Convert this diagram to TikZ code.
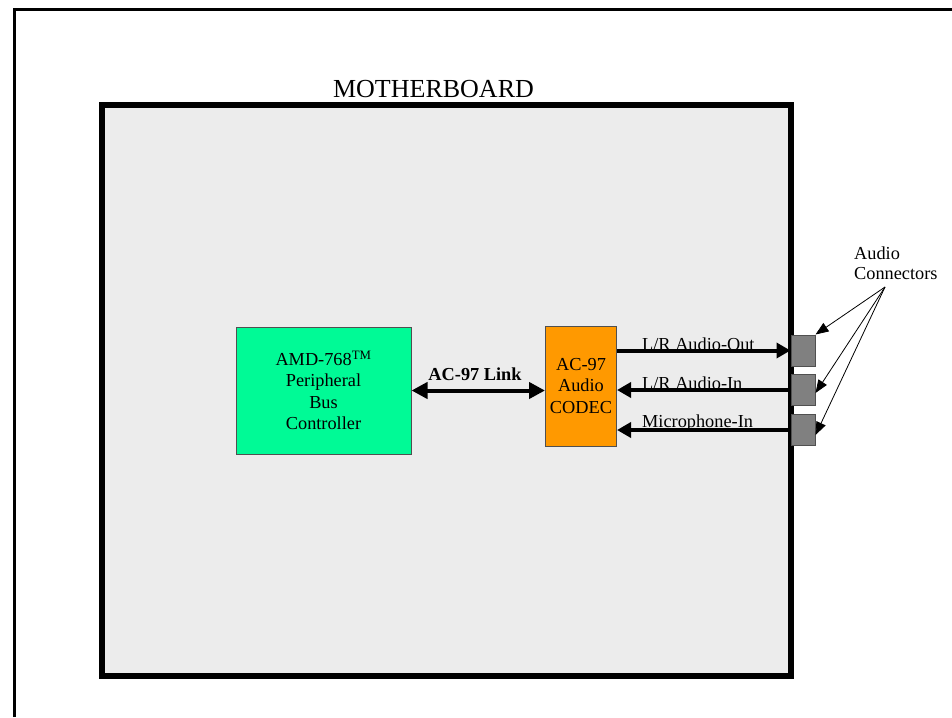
\documentclass[tikz,border=0pt]{standalone}
\usepackage{fontspec}
\setmainfont{Liberation Serif}
\usetikzlibrary{arrows.meta}
\definecolor{boardgray}{RGB}{236,236,236}
\definecolor{amdgreen}{RGB}{0,250,150}
\definecolor{codecorange}{RGB}{255,153,0}
\definecolor{conngray}{RGB}{128,128,128}
\definecolor{edgegray}{RGB}{80,80,80}
\tikzset{
  chip/.style={draw=edgegray, line width=1pt, align=center, inner sep=0pt,
    font=\fontsize{18.3}{21.5}\selectfont},
  jack/.style={draw=edgegray, fill=conngray, line width=1pt, minimum width=24pt, minimum height=31pt, inner sep=0pt},
  bus/.style={line width=4pt},
  bighead/.style={-{Triangle[length=14pt,width=15pt]}},
  thinarrow/.style={line width=0.8pt, -{Triangle[length=13pt,width=10pt]}},
  lbl/.style={font=\fontsize{18.3}{20}\selectfont, inner sep=0pt, anchor=base west}
}
\begin{document}
\begin{tikzpicture}[x=1pt,y=-1pt]
\useasboundingbox (0,0) rectangle (952,717);
% outer frame
\draw[line width=3pt] (14,717) -- (14,9.5) -- (952,9.5);
% motherboard
\draw[line width=6pt, fill=boardgray] (101.5,105) rectangle (791,676);
\node[font=\fontsize{26}{28}\selectfont, anchor=base, inner sep=0pt] (mb) at (433.5,97) {MOTHERBOARD};
% chips
\node[chip, fill=amdgreen, minimum width=175pt, minimum height=127pt] (amd) at (323.5,390.5)
  {AMD-768\textsuperscript{TM}\\Peripheral\\Bus\\Controller};
\node[chip, fill=codecorange, minimum width=71pt, minimum height=120pt] (codec) at (581,386)
  {AC-97\\Audio\\CODEC};
% connectors
\node[jack] (c1) at (803,350.5) {};
\node[jack] (c2) at (803,390) {};
\node[jack] (c3) at (803,430) {};
% link
\draw[bus, {Triangle[length=16pt,width=16pt]}-{Triangle[length=16pt,width=16pt]}] (amd.east) -- (codec.west |- amd.east);
\node[font=\bfseries\fontsize{18.3}{20}\selectfont, anchor=base, inner sep=0pt] (link) at (475,380) {AC-97 Link};
% audio lines
\draw[bus, bighead] (codec.east |- c1) -- (c1.west);
\draw[bus, bighead] (c2.west) -- (codec.east |- c2);
\draw[bus, bighead] (c3.west) -- (codec.east |- c3);
\node[lbl] (lo) at (642,350) {L/R Audio-Out};
\node[lbl] (li) at (642,389) {L/R Audio-In};
\node[lbl] (mi) at (642,427) {Microphone-In};
% audio connectors label
\node[font=\fontsize{18.3}{19.5}\selectfont, align=left, anchor=north west, inner sep=0pt] (ac) at (854,247) {Audio\\Connectors};
\coordinate (src) at (885,287);
\draw[thinarrow] (src) -- (c1.north east);
\draw[thinarrow] (src) -- ([yshift=-3pt]c2.east);
\draw[thinarrow] (src) -- ([yshift=-5pt]c3.east);
\end{tikzpicture}
\end{document}
